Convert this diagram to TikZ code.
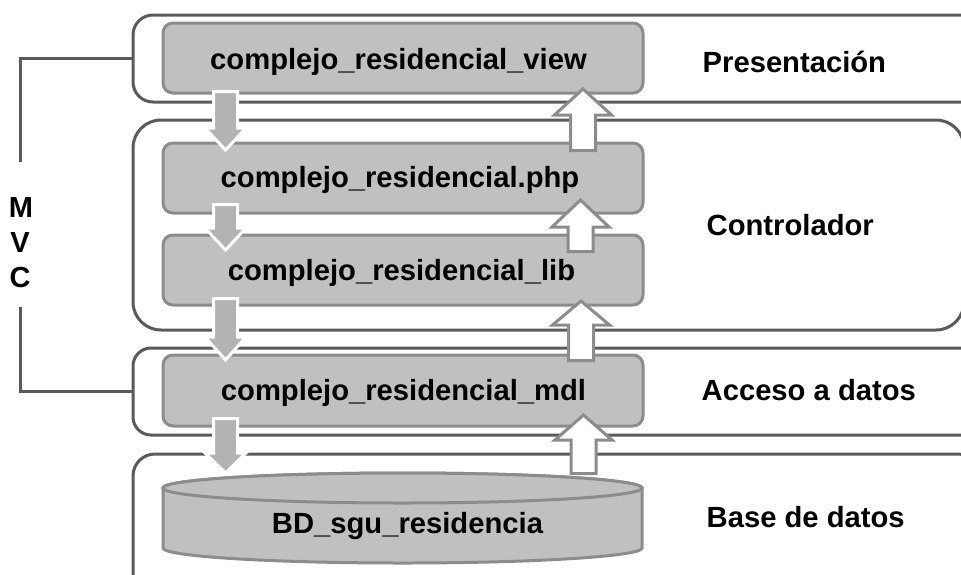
\documentclass[tikz,border=0pt]{standalone}
\usepackage{fontspec}
\setmainfont{Liberation Sans}
\definecolor{layerc}{HTML}{5A5A5A}
\definecolor{boxfill}{HTML}{C0C0C0}
\definecolor{boxline}{HTML}{8C8C8C}
\definecolor{downfill}{HTML}{B3B3B3}
\newcommand\downblk[4]{\path[downarr] (#1-12,#2) -- (#1+12,#2) -- (#1+12,#3) -- (#1+20.5,#3) -- (#1,#4) -- (#1-20.5,#3) -- (#1-12,#3) -- cycle;}
\newcommand\upblk[4]{\path[uparr] (#1-12.5,#2) -- (#1+12.5,#2) -- (#1+12.5,#3) -- (#1+28.5,#3) -- (#1,#4) -- (#1-28.5,#3) -- (#1-12.5,#3) -- cycle;}
\begin{document}
\begin{tikzpicture}[x=1pt,y=-1pt,
  layer/.style={draw=layerc, line width=3pt, rounded corners=#1, inner sep=0pt},
  inbox/.style={draw=boxline, fill=boxfill, line width=3pt, rounded corners=10pt, inner sep=0pt},
  bracketline/.style={draw=layerc, line width=3pt},
  downarr/.style={fill=downfill, draw=white, line width=3pt},
  uparr/.style={fill=white, draw=boxline, line width=3pt},
  lbl/.style={font=\fontsize{29.2}{34}\selectfont\bfseries, inner sep=0pt, anchor=base},
  rlbl/.style={font=\fontsize{29.2}{34}\selectfont\bfseries, inner sep=0pt, anchor=base west},
  mvcl/.style={font=\fontsize{29}{34}\selectfont\bfseries, inner sep=0pt, anchor=base}]
\useasboundingbox (0,0) rectangle (961,574);
\clip (0,0) rectangle (961,574);
% layers
\node[layer=20pt, minimum width=867pt, minimum height=87pt] (pres) at (566.5,58.5) {};
\node[layer=28pt, minimum width=831pt, minimum height=210pt] (ctrl) at (548.5,225) {};
\node[layer=18pt, minimum width=867pt, minimum height=87pt] (acc) at (566.5,391.5) {};
\node[layer=22pt, minimum width=847pt, minimum height=146pt] (base) at (556.5,527) {};
% MVC bracket
\node[mvcl] (m) at (21,217) {M};
\node[mvcl] (v) at (20,252) {V};
\node[mvcl] (c) at (20,287) {C};
\coordinate (mvctop) at (20,162);
\coordinate (mvcbot) at (20,307);
\draw[bracketline] (pres.west) -| (mvctop);
\draw[bracketline] (acc.west) -| (mvcbot);
% inner boxes
\node[inbox, minimum width=480pt, minimum height=70pt] (view) at (403,58) {};
\node[inbox, minimum width=480pt, minimum height=70pt] (php) at (403,178) {};
\node[inbox, minimum width=480pt, minimum height=70pt] (lib) at (403,270) {};
\node[inbox, minimum width=480pt, minimum height=71pt] (mdl) at (403,390.5) {};
% cylinder
\path[draw=boxline, fill=boxfill, line width=3pt] (163,488) -- (163,548)
  arc[start angle=180, end angle=0, x radius=239.5, y radius=15] -- (642,488)
  arc[start angle=0, end angle=-180, x radius=239.5, y radius=15] -- cycle;
\path[draw=boxline, fill=boxfill, line width=3pt] (402.5,488) ellipse[x radius=239.5, y radius=15];
% arrows down
\downblk{225.5}{91.5}{128}{150}
\downblk{225.5}{204.5}{228}{250}
\downblk{225.5}{298.5}{337}{360}
\downblk{225.5}{418.5}{453}{473}
% arrows up
\upblk{583}{150.5}{115}{89}
\upblk{580.5}{251.5}{227}{200}
\upblk{581}{360.5}{325}{301}
\upblk{583.5}{473.5}{440}{415}
% texts
\node[lbl] (tview) at (398.5,69) {complejo\_residencial\_view};
\node[lbl] (tphp) at (400,187) {complejo\_residencial.php};
\node[lbl] (tlib) at (401.5,280) {complejo\_residencial\_lib};
\node[lbl] (tmdl) at (403.5,400) {complejo\_residencial\_mdl};
\node[lbl] (tbd) at (407.5,533) {BD\_sgu\_residencia};
\node[rlbl] (lpres) at (702.5,72) {Presentación};
\node[rlbl] (lctrl) at (706.5,235) {Controlador};
\node[rlbl] (lacc) at (701.5,400) {Acceso a datos};
\node[rlbl] (lbase) at (706.5,527) {Base de datos};
\end{tikzpicture}
\end{document}
